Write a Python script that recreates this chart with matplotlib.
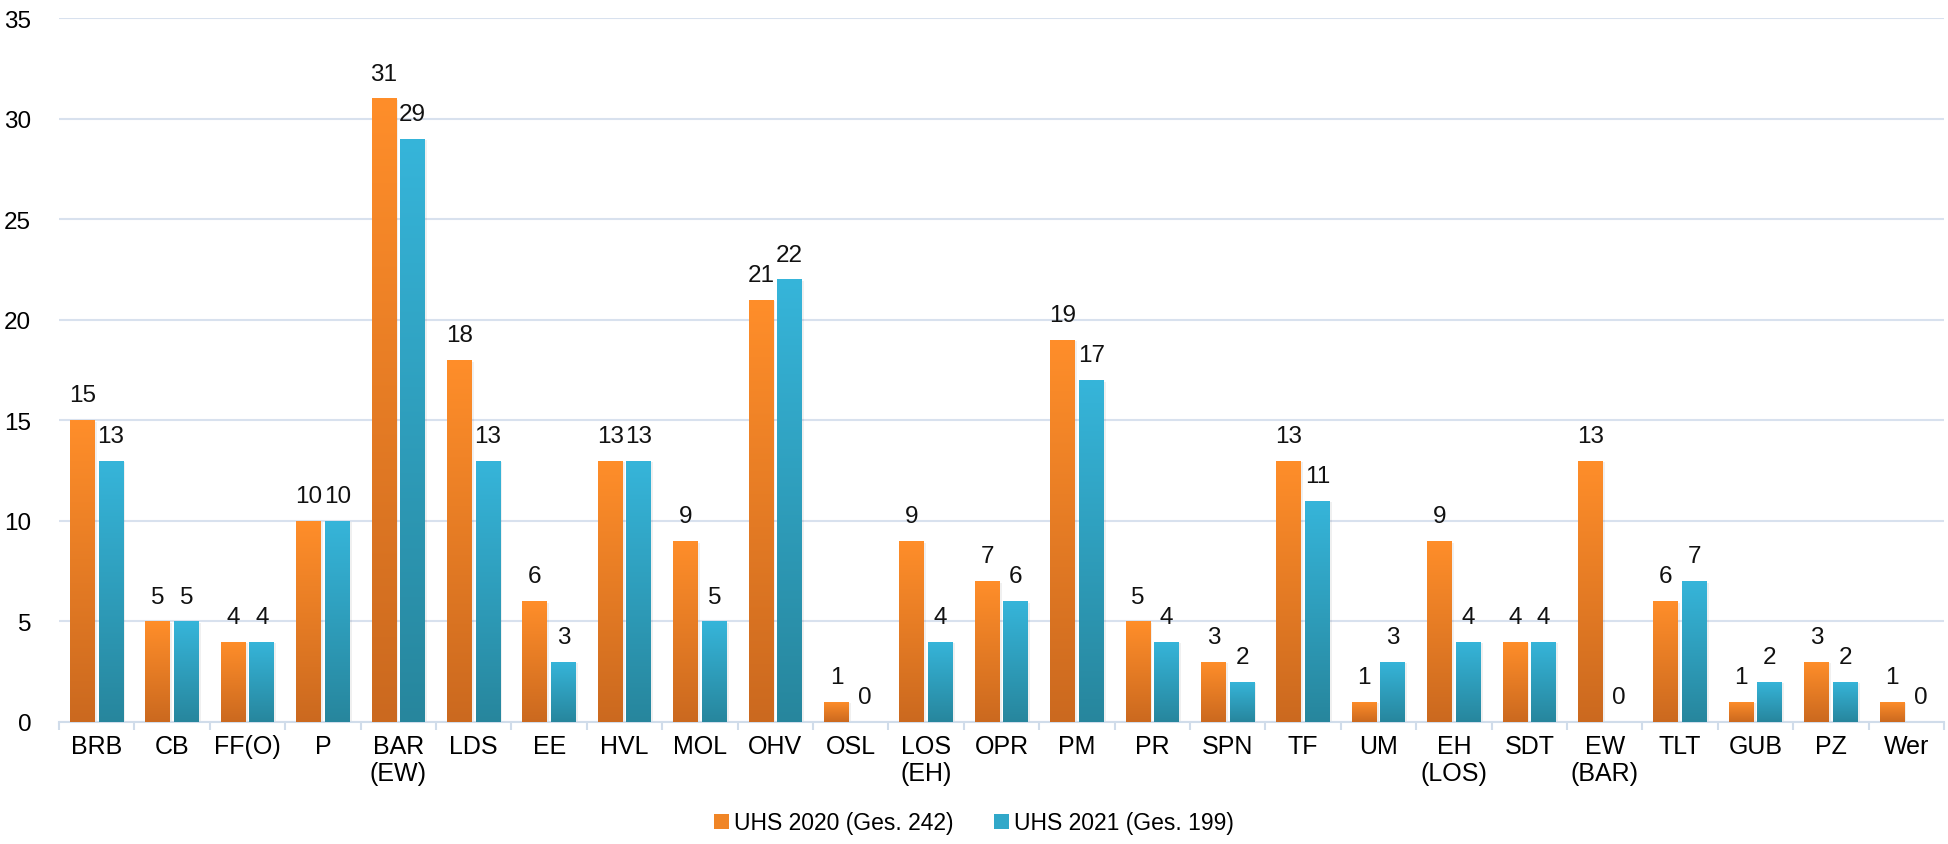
import numpy as np
import matplotlib.pyplot as plt
from matplotlib.patches import Patch
from matplotlib.colors import LinearSegmentedColormap

plt.rcParams['font.family'] = ['Liberation Sans', 'DejaVu Sans']

categories = ['BRB', 'CB', 'FF(O)', 'P', 'BAR\n(EW)', 'LDS', 'EE', 'HVL', 'MOL', 'OHV',
              'OSL', 'LOS\n(EH)', 'OPR', 'PM', 'PR', 'SPN', 'TF', 'UM', 'EH\n(LOS)', 'SDT',
              'EW\n(BAR)', 'TLT', 'GUB', 'PZ', 'Wer']
uhs_2020 = [15, 5, 4, 10, 31, 18, 6, 13, 9, 21, 1, 9, 7, 19, 5, 3, 13, 1, 9, 4, 13, 6, 1, 3, 1]
uhs_2021 = [13, 5, 4, 10, 29, 13, 3, 13, 5, 22, 0, 4, 6, 17, 4, 2, 11, 3, 4, 4, 0, 7, 2, 2, 0]
series_names = ['UHS 2020 (Ges. 242)', 'UHS 2021 (Ges. 199)']

orange_cmap = LinearSegmentedColormap.from_list('o', ['#CB691F', '#FF8E2A'])
blue_cmap = LinearSegmentedColormap.from_list('b', ['#27869D', '#36B5DA'])

fig = plt.figure(figsize=(19.48, 8.45), dpi=100)
ax = fig.add_axes([0.0303, 0.1444, 0.9677, 0.8331])

x = np.arange(len(categories))
w = 0.33
off = 0.19
grad = np.linspace(0, 1, 256).reshape(-1, 1)

for vals, dx, cmap in [(uhs_2020, -off, orange_cmap), (uhs_2021, off, blue_cmap)]:
    bars = ax.bar(x + dx, vals, w, color='none', edgecolor='none', zorder=3)
    for b, v in zip(bars, vals):
        x0 = b.get_x()
        if v > 0:
            # soft shadow on the right side
            ax.bar(x0 + w / 2 + 0.025, v, w, bottom=-0.08, color='#000000', alpha=0.06,
                   edgecolor='none', zorder=2)
            im = ax.imshow(grad, extent=[x0, x0 + w, 0, v], origin='lower', aspect='auto',
                           cmap=cmap, zorder=3)
            im.set_clip_path(b)
        ax.annotate(str(v), (x0 + w / 2, v), xytext=(0, 10), textcoords='offset points',
                    ha='center', va='bottom', fontsize=17.5, color='#111111')

ax.set_xlim(-0.5, len(categories) - 0.5)
ax.set_ylim(0, 35)
ax.set_yticks(range(0, 36, 5))
ax.yaxis.grid(True, color='#D8E1EE', linewidth=1.5, zorder=0)
ax.set_axisbelow(True)

ax.set_xticks(x)
ax.set_xticklabels(categories, fontsize=18, linespacing=1.15)
ax.set_xticks(np.arange(-0.5, len(categories), 1), minor=True)
ax.tick_params(axis='x', which='major', length=0, pad=9)
ax.tick_params(axis='x', which='minor', length=6, color='#D0DCEA', width=1.5)
ax.tick_params(axis='y', length=0, pad=20, labelsize=17.5)

for s in ['left', 'right', 'top']:
    ax.spines[s].set_visible(False)
ax.spines['bottom'].set_color('#D0DCEA')
ax.spines['bottom'].set_linewidth(1.5)

handles = [Patch(facecolor='#F08526', label=series_names[0]),
           Patch(facecolor='#31A8C9', label=series_names[1])]
fig.legend(handles=handles, loc='center', bbox_to_anchor=(0.5, 0.025), ncol=2,
           frameon=False, fontsize=16.5, handlelength=0.65, handleheight=0.65,
           handletextpad=0.2, columnspacing=1.8)

fig.savefig('out.png', dpi=100)
